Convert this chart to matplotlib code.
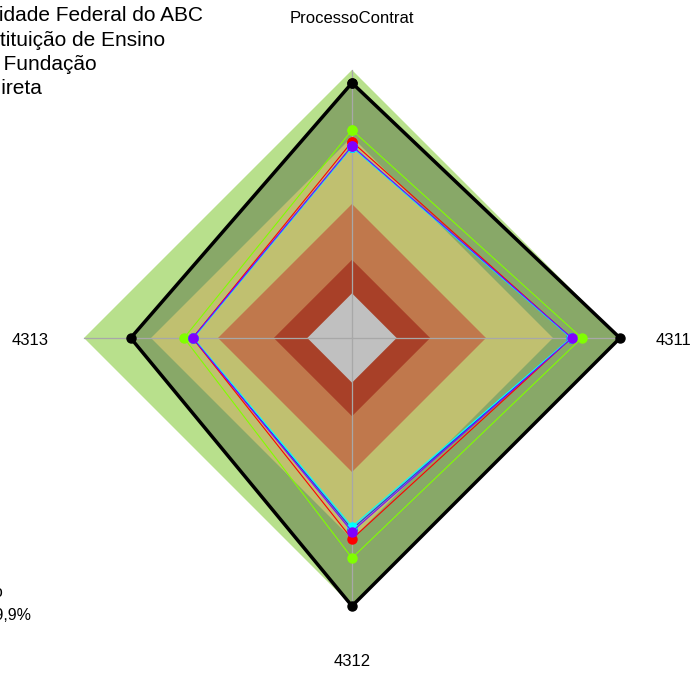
import numpy as np
import matplotlib.pyplot as plt
from matplotlib.patches import Polygon
from matplotlib.transforms import offset_copy

plt.rcParams['font.family'] = ['Liberation Sans', 'DejaVu Sans']

# Eixos do radar (sentido horário a partir do topo)
EIXOS = ["ProcessoContrat", "4311", "4312", "4313"]

# Escala 0-100, com o zero a 1/6 do raio (estilo fmsb)
VMIN, VMAX = 0, 100

# Faixas de classificação (valor igual em todos os eixos)
FAIXAS = [100, 70, 40, 15, 0]
CORES_FAIXAS = ["#b8e08c", "#c0c070", "#c0784c", "#a84028", "#c0c0c0"]

# Séries
MAXIMO = [94.2, 100, 100, 79.1]
SERIE_VERDE = [73.1, 82.9, 78.5, 55.2]
SERIE_VERMELHA = [67.9, 78.2, 70.0, 51.4]
SERIE_ROXA = [66.0, 78.4, 66.7, 51.3]
SERIE_AZUL = [65.7, 78.2, 65.6, 51.2]
SERIE_CIANO = [65.5, 78.0, 64.5, 51.0]

LEGENDA = ["Universidade Federal do ABC", "Instituição de Ensino",
           "Autarquia ou Fundação", "Administração Indireta"]
NOTA = ["Índice médio", "Média: 69,9%"]

W, H, DPI = 694, 673, 100
CX, CY, R = 352, 338, 268  # centro e raio em pixels


def escala(v):
    v = np.asarray(v, dtype=float)
    return 1 / 6 + (v - VMIN) / (VMAX - VMIN) * 5 / 6


ang = np.pi / 2 - np.arange(len(EIXOS)) * 2 * np.pi / len(EIXOS)


def xy(vals):
    r = escala(vals)
    return np.column_stack([r * np.cos(ang), r * np.sin(ang)])


fig = plt.figure(figsize=(W / DPI, H / DPI), dpi=DPI)
ax = fig.add_axes([0, 0, 1, 1])
ax.set_xlim(-CX / R, (W - CX) / R)
ax.set_ylim(-(H - CY) / R, CY / R)
ax.axis('off')

# faixa externa
ax.add_patch(Polygon(xy([FAIXAS[0]] * 4), closed=True, fc=CORES_FAIXAS[0], ec='none', zorder=1))
# área do máximo
ax.add_patch(Polygon(xy(MAXIMO), closed=True, fc="#88a868", ec='none', zorder=2))
for i, (f, c) in enumerate(zip(FAIXAS[1:], CORES_FAIXAS[1:])):
    ax.add_patch(Polygon(xy([f] * 4), closed=True, fc=c, ec='none', zorder=3 + i))

# raios
for a in ang:
    ax.plot([0, np.cos(a)], [0, np.sin(a)], color="#a8a8a8", lw=0.9, zorder=8)

series = [(SERIE_VERDE, "#80ff00"), (SERIE_VERMELHA, "#ff0000"),
          (SERIE_AZUL, "#0040ff"), (SERIE_CIANO, "#00ffff"), (SERIE_ROXA, "#8000ff")]
for vals, cor in series:
    p = xy(vals)
    p = np.vstack([p, p[:1]])
    ax.plot(p[:, 0], p[:, 1], color=cor, lw=0.8, marker='o', ms=6.5,
            mec=cor, mfc=cor, zorder=10)

p = xy(MAXIMO)
p = np.vstack([p, p[:1]])
ax.plot(p[:, 0], p[:, 1], color='black', lw=2.5, marker='o', ms=6.5, zorder=11)

# rótulos dos eixos a 1.2 do raio
trans_lbl = offset_copy(ax.transData, fig=fig, x=0, y=-2, units='dots')
for nome, a in zip(EIXOS, ang):
    ax.text(1.2 * np.cos(a), 1.2 * np.sin(a), nome, ha='center', va='center',
            fontsize=12, transform=trans_lbl)

# legenda (cortada na borda esquerda)
dir_x = [203, 165, 97, 42]
for i, txt in enumerate(LEGENDA):
    fig.text(dir_x[i] / W, 1 - (21 + i * 24.5) / H, txt, ha='right', va='baseline', fontsize=15)

fig.text(3 / W, 1 - 597 / H, NOTA[0], ha='right', va='baseline', fontsize=11.5)
fig.text(31 / W, 1 - 620 / H, NOTA[1], ha='right', va='baseline', fontsize=11.5)

fig.savefig("out.png", dpi=DPI)
